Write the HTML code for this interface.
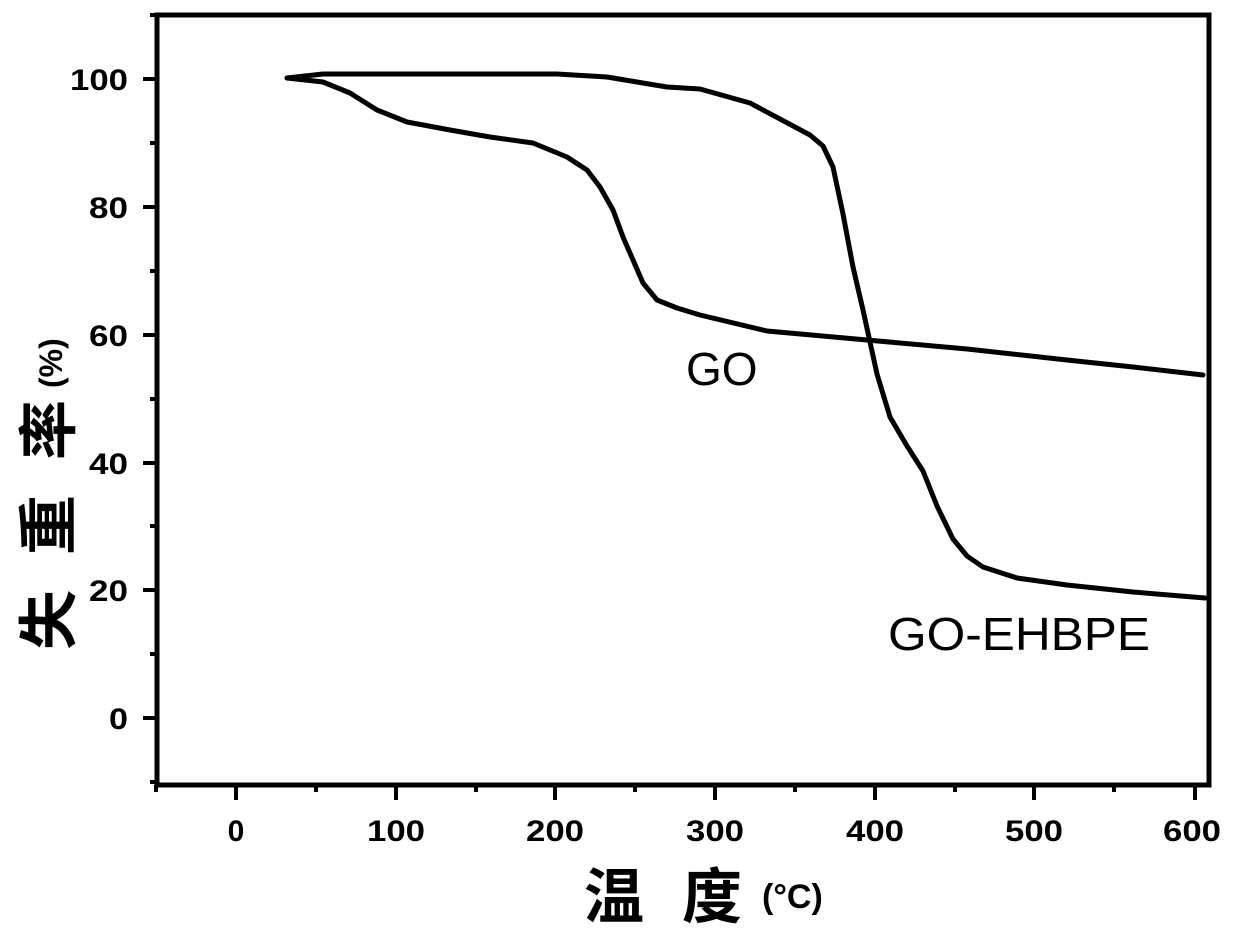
<!DOCTYPE html>
<html><head><meta charset="utf-8"><style>
html,body{margin:0;padding:0;background:#fff;}
svg{display:block;}
text{font-family:"Liberation Sans","Noto Sans CJK SC",sans-serif;fill:#000;}
</style></head><body>
<svg width="1237" height="939" viewBox="0 0 1237 939" xmlns="http://www.w3.org/2000/svg">
<rect x="157" y="15" width="1052" height="770" fill="none" stroke="#000" stroke-width="5"/>
<g stroke="#000" stroke-width="4">
<line x1="143" y1="79" x2="157" y2="79"/>
<line x1="143" y1="207" x2="157" y2="207"/>
<line x1="143" y1="335" x2="157" y2="335"/>
<line x1="143" y1="463" x2="157" y2="463"/>
<line x1="143" y1="590" x2="157" y2="590"/>
<line x1="143" y1="718" x2="157" y2="718"/>
<line x1="150" y1="15" x2="157" y2="15"/>
<line x1="150" y1="143" x2="157" y2="143"/>
<line x1="150" y1="271" x2="157" y2="271"/>
<line x1="150" y1="399" x2="157" y2="399"/>
<line x1="150" y1="526" x2="157" y2="526"/>
<line x1="150" y1="654" x2="157" y2="654"/>
<line x1="150" y1="782" x2="157" y2="782"/>
<line x1="236" y1="785" x2="236" y2="800"/>
<line x1="396" y1="785" x2="396" y2="800"/>
<line x1="555" y1="785" x2="555" y2="800"/>
<line x1="715" y1="785" x2="715" y2="800"/>
<line x1="875" y1="785" x2="875" y2="800"/>
<line x1="1034" y1="785" x2="1034" y2="800"/>
<line x1="1195" y1="785" x2="1195" y2="800"/>
<line x1="156" y1="785" x2="156" y2="792"/>
<line x1="316" y1="785" x2="316" y2="792"/>
<line x1="476" y1="785" x2="476" y2="792"/>
<line x1="635" y1="785" x2="635" y2="792"/>
<line x1="795" y1="785" x2="795" y2="792"/>
<line x1="955" y1="785" x2="955" y2="792"/>
<line x1="1114" y1="785" x2="1114" y2="792"/>
</g>
<g font-weight="bold" font-size="30" text-anchor="end">
<text x="128" y="90" textLength="58" lengthAdjust="spacingAndGlyphs">100</text>
<text x="128" y="218" textLength="39" lengthAdjust="spacingAndGlyphs">80</text>
<text x="128" y="346" textLength="39" lengthAdjust="spacingAndGlyphs">60</text>
<text x="128" y="474" textLength="39" lengthAdjust="spacingAndGlyphs">40</text>
<text x="128" y="601" textLength="39" lengthAdjust="spacingAndGlyphs">20</text>
<text x="128" y="729" textLength="19" lengthAdjust="spacingAndGlyphs">0</text>
</g>
<g font-weight="bold" font-size="30" text-anchor="middle">
<text x="236" y="841">0</text>
<text x="396" y="841" textLength="58" lengthAdjust="spacingAndGlyphs">100</text>
<text x="555" y="841" textLength="58" lengthAdjust="spacingAndGlyphs">200</text>
<text x="715" y="841" textLength="58" lengthAdjust="spacingAndGlyphs">300</text>
<text x="875" y="841" textLength="58" lengthAdjust="spacingAndGlyphs">400</text>
<text x="1034" y="841" textLength="58" lengthAdjust="spacingAndGlyphs">500</text>
<text x="1192" y="841" textLength="58" lengthAdjust="spacingAndGlyphs">600</text>
</g>
<g fill="none" stroke="#000" stroke-width="5" stroke-linejoin="round" stroke-linecap="round">
<polyline points="287,78 323,82 350,93 377,110 407,122 450,130 490,137 533,143 567,157 587,170 600,187 613,210 623,237 633,260 643,283 657,300 677,308 700,315 767,331 867,340 967,349 1067,360 1133,367 1203,375"/>
<polyline points="287,78 323,74 557,74 607,77 667,87 700,89 750,103 810,135 823,146 833,167 843,214 853,267 863,310 870,342 877,374 890,417 907,446 923,471 937,506 953,539 967,556 983,567 1017,578 1067,585 1133,592 1205,598"/>
</g>
<text x="686" y="385" font-size="46">GO</text>
<text x="888" y="650" font-size="46" textLength="262" lengthAdjust="spacingAndGlyphs">GO-EHBPE</text>
<text x="584" y="918" font-size="60" font-weight="bold">温</text>
<text x="682" y="918" font-size="60" font-weight="bold">度</text>
<text x="762" y="908" font-size="34" font-weight="bold">(°C)</text>
<g transform="translate(70,650) rotate(-90)">
<text x="0" y="0" font-size="60" font-weight="bold">失</text>
<text x="95" y="0" font-size="60" font-weight="bold">重</text>
<text x="190" y="0" font-size="60" font-weight="bold">率</text>
<text x="262" y="-8" font-size="32" font-weight="bold">(%)</text>
</g>
</svg>
</body></html>
